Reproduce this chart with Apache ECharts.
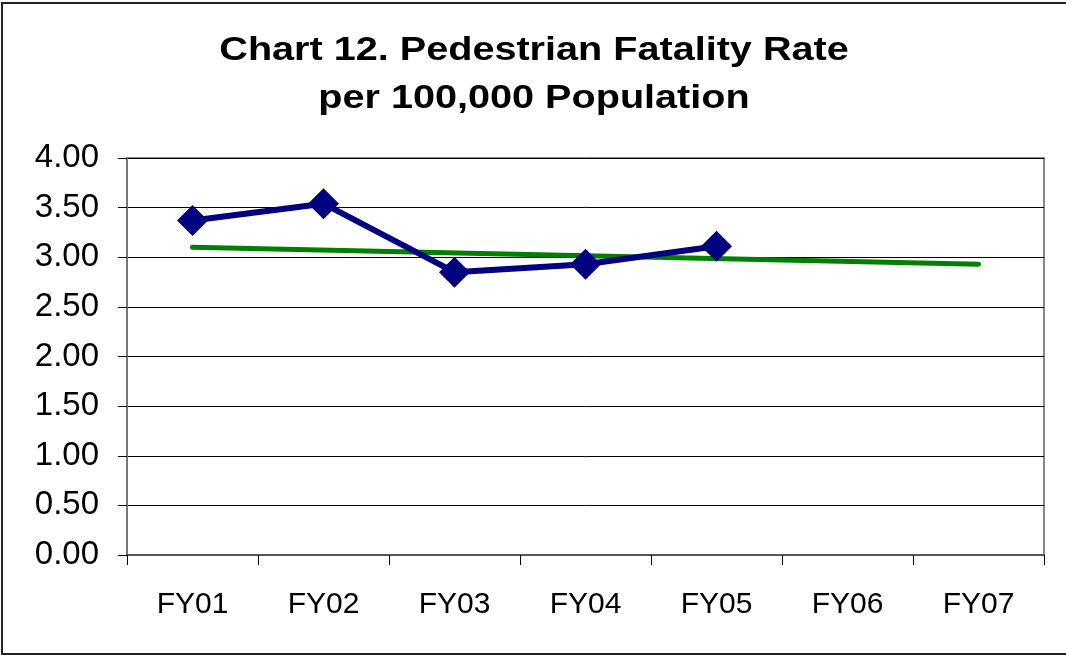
<!DOCTYPE html>
<html>
<head>
<meta charset="utf-8">
<script src="https://cdn.jsdelivr.net/npm/echarts@6/dist/echarts.min.js"></script>
<style>
  html, body { margin: 0; padding: 0; background: #fff; }
  #main { width: 1066px; height: 655px; }
</style>
</head>
<body>
<div id="main"></div>
<script>
const categories = ['FY01', 'FY02', 'FY03', 'FY04', 'FY05', 'FY06', 'FY07'];
const rateValues = [3.37, 3.54, 2.85, 2.93, 3.11, null, null];
// linear trend, only end points
const trendValues = [3.10, null, null, null, null, null, 2.93];
const yTicks = [0, 4, 0.5];
const titleLines = ['Chart 12. Pedestrian Fatality Rate', 'per 100,000 Population'];

const chart = echarts.init(document.getElementById('main'), null, { renderer: 'canvas' });

const font = '"Liberation Sans", Arial, sans-serif';

// title text in the reference is drawn a bit wide, so stretch it
const titleText = (text, y) => ({
  type: 'text',
  x: 534,
  y: y,
  scaleX: 1.2,
  silent: true,
  style: {
    text: text,
    fill: '#000',
    font: 'bold 33px ' + font,
    textAlign: 'center',
    textVerticalAlign: 'middle'
  }
});

chart.setOption({
  backgroundColor: '#fff',
  animation: false,
  graphic: [{
    type: 'rect',
    shape: { x: 2, y: 3, width: 1080, height: 651 },
    style: { fill: null, stroke: '#222', lineWidth: 2 },
    silent: true
  },
  titleText(titleLines[0], 51),
  titleText(titleLines[1], 99)],
  grid: { left: 127, right: 22, top: 158, bottom: 100, show: true, borderColor: '#888', borderWidth: 2 },
  xAxis: {
    type: 'category',
    data: categories,
    boundaryGap: true,
    axisLine: { lineStyle: { color: '#555', width: 2 } },
    axisTick: { show: true, alignWithLabel: false, length: 10, lineStyle: { color: '#000', width: 1 } },
    axisLabel: { fontFamily: font, fontSize: 30, color: '#000', margin: 35 },
    splitLine: { show: false }
  },
  yAxis: {
    type: 'value',
    min: yTicks[0],
    max: yTicks[1],
    interval: yTicks[2],
    axisLine: { show: true, lineStyle: { color: '#777', width: 2 } },
    axisTick: { show: true, length: 9, lineStyle: { color: '#000', width: 1 } },
    axisLabel: { fontFamily: font, fontSize: 33, color: '#000', margin: 28, formatter: v => v.toFixed(2) },
    splitLine: { show: true, lineStyle: { color: '#000', width: 1 } }
  },
  series: [{
    name: 'Trend',
    type: 'line',
    data: trendValues,
    connectNulls: true,
    symbol: 'none',
    lineStyle: { color: '#008000', width: 5, cap: 'round' },
    z: 2
  }, {
    name: 'Rate',
    type: 'line',
    data: rateValues,
    symbol: 'diamond',
    symbolSize: 31,
    itemStyle: { color: '#000080' },
    lineStyle: { color: '#000080', width: 6 },
    z: 3
  }]
});
</script>
</body>
</html>
